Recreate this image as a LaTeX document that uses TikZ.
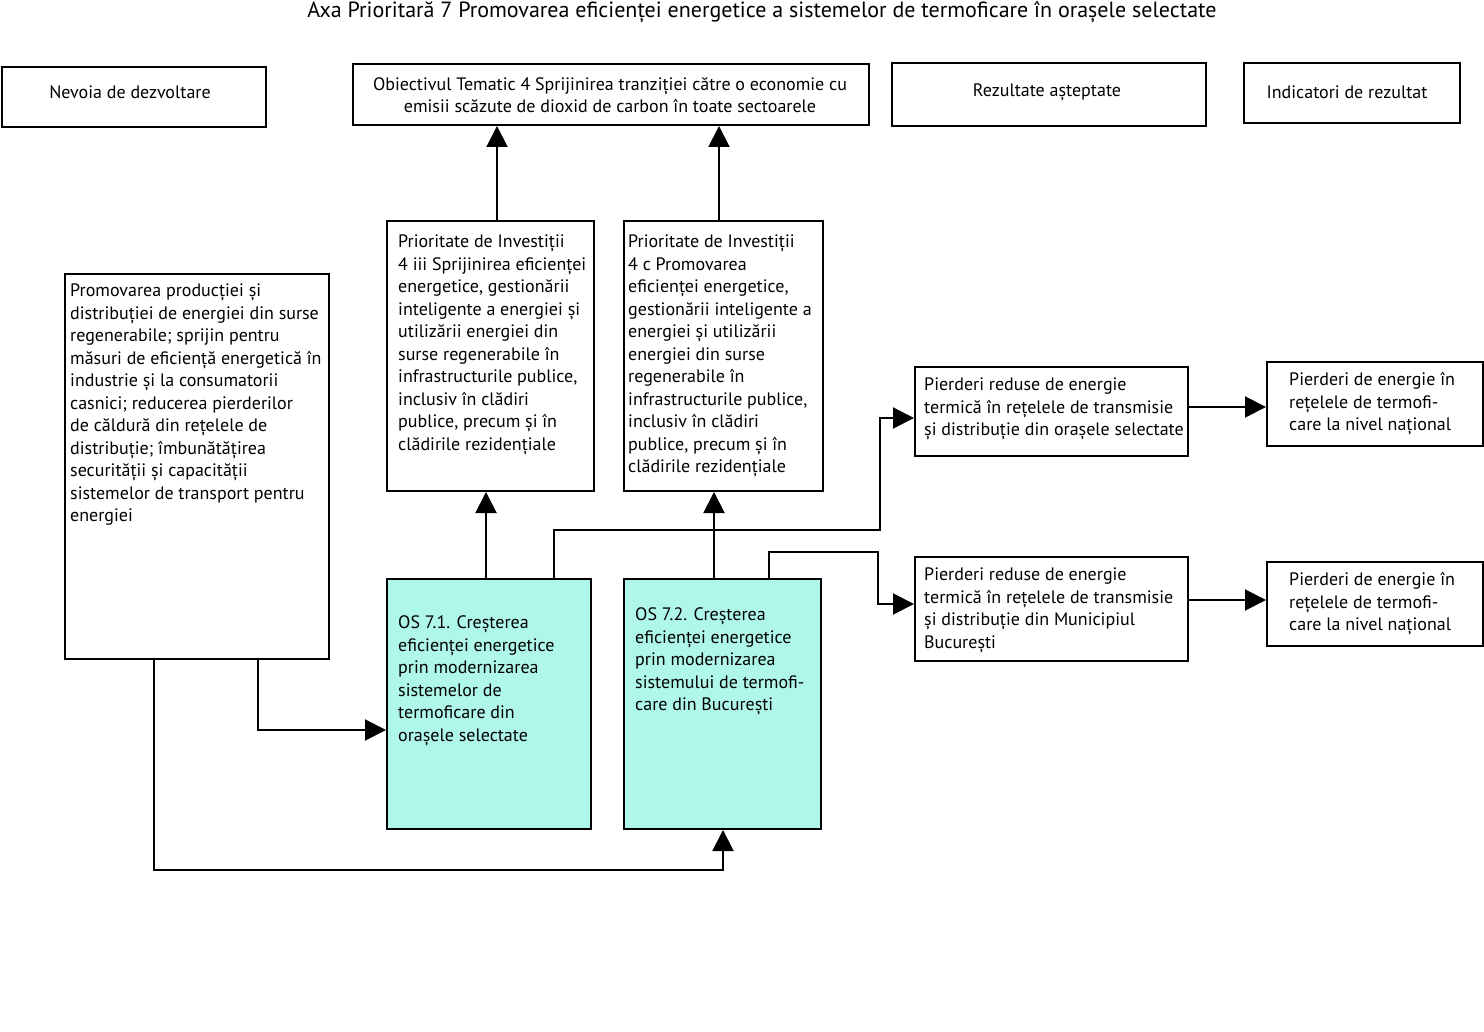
\documentclass[tikz,border=0pt]{standalone}
\usepackage{fontspec}
\setmainfont{PT Sans}
\usetikzlibrary{arrows.meta}
\definecolor{osfill}{HTML}{AFF7E9}
\tikzset{
  box/.style={draw=black, line width=2pt, rectangle, inner sep=0pt},
  osbox/.style={box, fill=osfill},
  txt/.style={inner sep=0pt, align=left, font=\fontsize{18}{22.5}\selectfont, anchor=north west},
  ctxt/.style={inner sep=0pt, align=center, font=\fontsize{18}{22.5}\selectfont},
  conn/.style={line width=2pt, -{Triangle[length=21pt,width=21pt]}},
}
\newcommand{\bx}[6]{\node[#1, minimum width=#4-#2, minimum height=#5-#3, anchor=north west] (#6) at (#2,#3) {};}
\begin{document}
\begin{tikzpicture}[x=1pt,y=-1pt]
\useasboundingbox (0,0) rectangle (1484,1032);
\node[inner sep=0pt, font=\fontsize{22}{24}\selectfont] (title) at (762,12) {Axa Prioritară 7 Promovarea eficienței energetice a sistemelor de termoficare în orașele selectate};
% header boxes
\bx{box}{1}{66}{265}{126}{nev}
\node[ctxt] (nevt) at (130,92) {Nevoia de dezvoltare};
\bx{box}{352}{63}{868}{124}{obi}
\node[ctxt] (obit) at (610,95) {Obiectivul Tematic 4 Sprijinirea tranziției către o economie cu\\emisii scăzute de dioxid de carbon în toate sectoarele};
\bx{box}{891}{62}{1205}{125}{rez}
\node[ctxt] (rezt) at (1047,92) {Rezultate așteptate};
\bx{box}{1243}{62}{1459}{122}{ind}
\node[ctxt] (indt) at (1347,92) {Indicatori de rezultat};
% left box
\bx{box}{64}{273}{328}{658}{nd}
\node[txt] (ndt) at (70,281) {\strut Promovarea producției și\\distribuției de energiei din surse\\regenerabile; sprijin pentru\\măsuri de eficiență energetică în\\industrie și la consumatorii\\casnici; reducerea pierderilor\\de căldură din rețelele de\\distribuție; îmbunătățirea\\securității și capacității\\sistemelor de transport pentru\\energiei};
% PI boxes
\bx{box}{386}{220}{593}{490}{pia}
\node[txt] (piat) at (398,232) {\strut Prioritate de Investiții\\4 iii Sprijinirea eficienței\\energetice, gestionării\\inteligente a energiei și\\utilizării energiei din\\surse regenerabile în\\infrastructurile publice,\\inclusiv în clădiri\\publice, precum și în\\clădirile rezidențiale};
\bx{box}{623}{220}{822}{490}{pib}
\node[txt] (pibt) at (628,232) {\strut Prioritate de Investiții\\4 c Promovarea\\eficienței energetice,\\gestionării inteligente a\\energiei și utilizării\\energiei din surse\\regenerabile în\\infrastructurile publice,\\inclusiv în clădiri\\publice, precum și în\\clădirile rezidențiale};
% OS boxes
\bx{osbox}{386}{578}{590}{828}{osa}
\node[txt] (osat) at (398,613) {\strut OS 7.1. Creșterea\\eficienței energetice\\prin modernizarea\\sistemelor de\\termoficare din\\orașele selectate};
\bx{osbox}{623}{578}{820}{828}{osb}
\node[txt] (osbt) at (635,605) {\strut OS 7.2. Creșterea\\eficienței energetice\\prin modernizarea\\sistemului de termofi-\\care din București};
% results
\bx{box}{914}{366}{1187}{455}{ra}
\node[txt] (rat) at (924,375) {\strut Pierderi reduse de energie\\termică în rețelele de transmisie\\și distribuție din orașele selectate};
\bx{box}{914}{556}{1187}{660}{rb}
\node[txt] (rbt) at (924,565) {\strut Pierderi reduse de energie\\termică în rețelele de transmisie\\și distribuție din Municipiul\\București};
\bx{box}{1266}{361}{1482}{445}{ia}
\node[txt] (iat) at (1289,370) {\strut Pierderi de energie în\\rețelele de termofi-\\care la nivel național};
\bx{box}{1266}{561}{1482}{645}{ib}
\node[txt] (ibt) at (1289,570) {\strut Pierderi de energie în\\rețelele de termofi-\\care la nivel național};
% connectors
\draw[conn] (pia.north -| 497,0) -- (obi.south -| 497,0);
\draw[conn] (pib.north -| 719,0) -- (obi.south -| 719,0);
\draw[conn] (osa.north -| 486,0) -- (pia.south -| 486,0);
\draw[conn] (osb.north -| 714,0) -- (pib.south -| 714,0);
\draw[conn] (osa.north -| 554,0) -- (554,530) -- (880,530) -- (880,418) -- (ra.west |- 0,418);
\draw[conn] (osb.north -| 769,0) -- (769,552) -- (878,552) -- (878,604) -- (rb.west |- 0,604);
\draw[conn] (ra.east |- 0,407) -- (ia.west |- 0,407);
\draw[conn] (rb.east |- 0,600) -- (ib.west |- 0,600);
\draw[conn] (nd.south -| 258,0) -- (258,730) -- (osa.west |- 0,730);
\draw[conn] (nd.south -| 154,0) -- (154,870) -- (723,870) -- (osb.south -| 723,0);
\end{tikzpicture}
\end{document}
